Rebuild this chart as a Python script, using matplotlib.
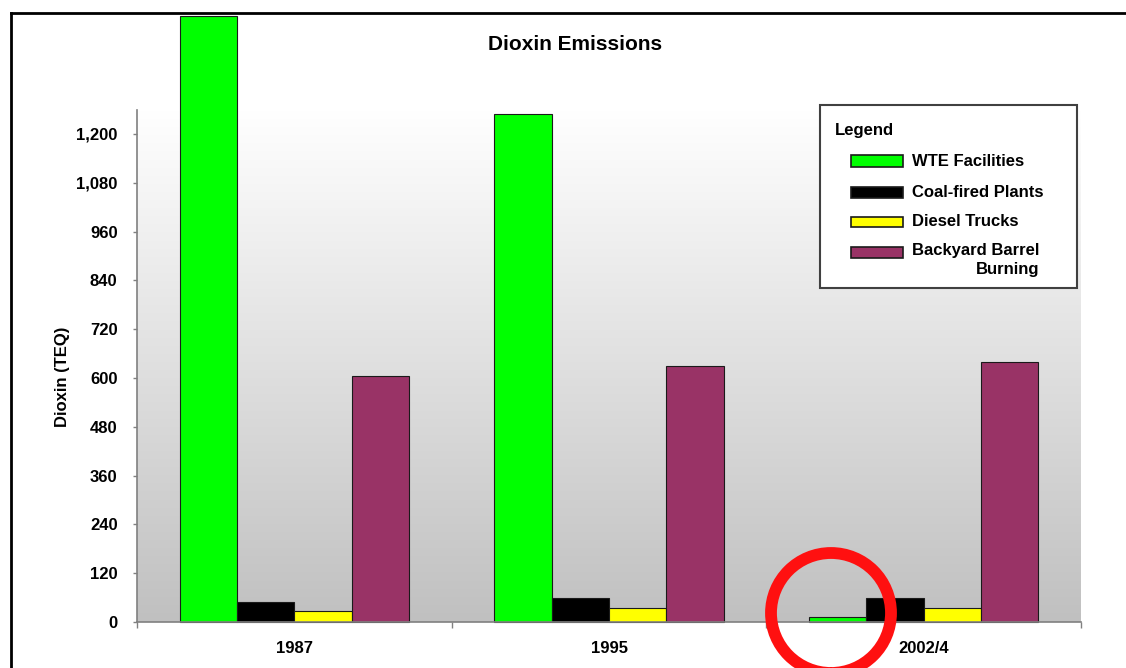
import numpy as np
import matplotlib
matplotlib.use("Agg")
import matplotlib.pyplot as plt
from matplotlib.patches import Ellipse, Rectangle
from matplotlib.lines import Line2D

# ---- data -------------------------------------------------------------
years = ["1987", "1995", "2002/4"]
series_names = ["WTE Facilities", "Coal-fired Plants", "Diesel Trucks",
                "Backyard Barrel\nBurning"]
wte = [1490, 1250, 12]
coal = [50, 60, 60]
diesel = [28, 35, 34]
barrel = [605, 630, 640]
series_colors = ["#00ff00", "#000000", "#ffff00", "#993366"]
yticks = list(range(0, 1201, 120))
ytick_labels = [f"{v:,}" for v in yticks]

plt.rcParams["font.family"] = ["Liberation Sans", "DejaVu Sans"]
plt.rcParams["font.weight"] = "bold"

W, H = 1126, 668
fig = plt.figure(figsize=(W / 100, H / 100), dpi=100)
fig.patch.set_facecolor("white")


def fx(px):
    return px / W


def fy(py):
    return 1 - py / H


ax = fig.add_axes([fx(137), fy(622), fx(1081) - fx(137), fy(110) - fy(622)])
ax.set_facecolor("none")

# grey vertical gradient behind the bars
ymax = 1259
grad = np.linspace(255, 192, 256) / 255.0
rgb = np.repeat(grad[:, None, None], 3, axis=2)
ax.imshow(rgb, extent=[-0.5, 2.5, 0, ymax], aspect="auto", origin="upper",
          zorder=0, interpolation="bilinear")

x = np.arange(len(years))
w = 0.182
for i, vals in enumerate([wte, coal, diesel, barrel]):
    ax.bar(x + (i - 1.5) * w, vals, w, color=series_colors[i],
           edgecolor="#1a1a1a", linewidth=0.8, clip_on=False, zorder=2)

ax.set_xlim(-0.5, 2.5)
ax.set_ylim(0, ymax)

for s in ("top", "right"):
    ax.spines[s].set_visible(False)
for s in ("left", "bottom"):
    ax.spines[s].set_color("#808080")
    ax.spines[s].set_linewidth(1.2)
    ax.spines[s].set_zorder(3)

ax.set_yticks(yticks, ytick_labels)
ax.tick_params(axis="y", length=3, width=1, color="#808080", pad=11,
               labelsize=12)
ax.set_xticks(x, years)
ax.set_xticks([-0.5, 0.5, 1.5, 2.5], minor=True)
ax.tick_params(axis="x", which="major", length=0, pad=14, labelsize=12)
ax.tick_params(axis="x", which="minor", length=4, width=1, color="#808080")

# titles
fig.text(fx(575), fy(45), "Dioxin Emissions", ha="center", va="center",
         fontsize=15, fontweight="bold")
fig.text(fx(63), fy(377), "Dioxin (TEQ)", rotation=90, ha="center",
         va="center", fontsize=12, fontweight="bold")

# legend box
fig.add_artist(Rectangle((fx(820), fy(288)), fx(1077) - fx(820),
                         fy(105) - fy(288), transform=fig.transFigure,
                         facecolor="white", edgecolor="#404040", lw=1.5,
                         zorder=4))
fig.text(fx(835), fy(131), "Legend", ha="left", va="center", fontsize=12,
         fontweight="bold", zorder=5)
entry_y = [161, 192, 222, 252]
for name, col, yc in zip(series_names, series_colors, entry_y):
    fig.add_artist(Rectangle((fx(851), fy(yc + 5.5)), fx(903) - fx(851),
                             fy(yc - 5.5) - fy(yc + 5.5),
                             transform=fig.transFigure, facecolor=col,
                             edgecolor="#1a1a1a", lw=1.2, zorder=5))
    if "\n" in name:
        fig.text(fx(912), fy(yc - 9), name, ha="left", va="top",
                 multialignment="right", fontsize=12, fontweight="bold",
                 linespacing=1.35, zorder=5)
    else:
        fig.text(fx(912), fy(yc), name, ha="left", va="center", fontsize=12,
                 fontweight="bold", zorder=5)

# outer frame (top and left edges)
fig.add_artist(Line2D([fx(11), 1.0], [fy(13), fy(13)],
                      transform=fig.transFigure, color="black", lw=2.0))
fig.add_artist(Line2D([fx(11), fx(11)], [fy(13), 0.0],
                      transform=fig.transFigure, color="black", lw=2.0))

# red highlight ring around the 2002/4 WTE bar
fig.add_artist(Ellipse((fx(831), fy(613)), 120 / W, 120 / H,
                       transform=fig.transFigure, fill=False,
                       edgecolor="#ff1010", lw=8.5, zorder=10))

fig.savefig("out.png", dpi=100)
